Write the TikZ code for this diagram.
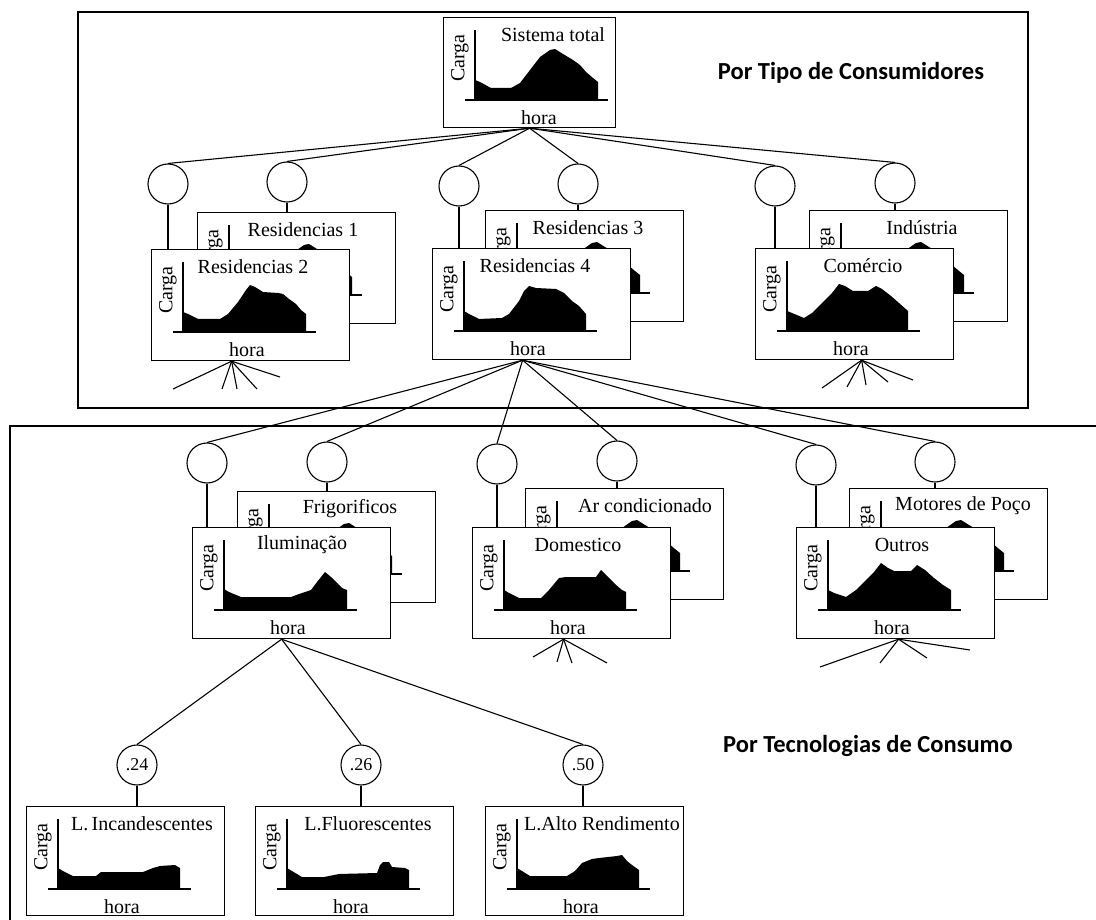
\documentclass[tikz,border=0pt]{standalone}
\usepackage{fontspec}
\setmainfont{Liberation Serif}
\newfontfamily\rotulo{Carlito}

\tikzset{
  caixa/.style={draw, fill=white, line width=1.2pt, minimum width=198pt,
    minimum height=111pt, anchor=north west, inner sep=0pt},
  bola/.style={draw, circle, fill=white, minimum size=40pt, inner sep=0pt,
    line width=1.1pt, font=\fontsize{18}{20}\selectfont},
  liga/.style={line width=1.1pt},
  moldura/.style={line width=1.3pt},
}

% grafico de carga dentro de uma caixa: nome, titulo, x do titulo, perfil
\newcommand{\grafico}[4]{%
  \begin{scope}[shift={(#1.north west)}]
    \draw[line width=1.2pt] (32,13) -- (32,83);
    \draw[line width=1.2pt] (22,83) -- (165,83);
    \fill[shift={(32,83)}, yscale=-1] (0,0) -- #4 -- cycle;
    \node[rotate=90] at (17,41) {Carga};
    \node at (#3,18) {#2};
    \node at (96,101) {hora};
  \end{scope}}
% caixa de tras (quase toda coberta)
\newcommand{\graficoatras}[3]{%
  \grafico{#1}{#2}{#3}{(0,20) -- (5,18) -- (16,12) -- (36,12) -- (45,17) -- (55,30) -- (65,43) -- (75,50) -- (80,51) -- (88,46) -- (98,40) -- (105,35) -- (111,28) -- (118,22) -- (123,18) -- (123,0)}}

\begin{document}
\begin{tikzpicture}[x=1pt, y=-1pt, font=\fontsize{20}{22}\selectfont]
\useasboundingbox (0,0) rectangle (1096,920);

% molduras
\draw[moldura] (78,12) rectangle (1028,408);
\draw[moldura] (10,920) -- (10,426) -- (1096,426);

% sistema total
\node[caixa, minimum width=172pt, minimum height=110pt] (stot) at (443,17) {};
\grafico{stot}{Sistema total}{110}{(0,20) -- (5,18) -- (16,12) -- (36,12) -- (45,17) -- (55,30) -- (65,43) -- (75,50) -- (80,51) -- (88,46) -- (98,40) -- (105,35) -- (111,28) -- (118,22) -- (123,18) -- (123,0)}

% tipo de consumidores
\node[caixa] (res1) at (197,212) {};
\graficoatras{res1}{Residencias 1}{106}
\node[caixa] (res2) at (151,249) {};
\grafico{res2}{Residencias 2}{102}{(0,20) -- (5,18) -- (15,13) -- (37,13) -- (45,18) -- (55,30) -- (63,42) -- (67,47) -- (72,45) -- (80,40) -- (95,39) -- (100,38) -- (106,33) -- (113,28) -- (118,22) -- (123,18) -- (123,0)}

\node[caixa] (res3) at (485,210) {};
\graficoatras{res3}{Residencias 3}{103}
\node[caixa] (res4) at (432,248) {};
\grafico{res4}{Residencias 4}{103}{(0,20) -- (5,17) -- (15,12) -- (38,13) -- (45,17) -- (55,30) -- (60,40) -- (65,45) -- (72,43) -- (92,42) -- (100,38) -- (108,30) -- (115,25) -- (122,17) -- (122,0)}

\node[caixa] (ind) at (809,210) {};
\graficoatras{ind}{Indústria}{113}
\node[caixa] (com) at (755,248) {};
\grafico{com}{Comércio}{108}{(0,20) -- (5,18) -- (17,13) -- (25,18) -- (37,30) -- (45,38) -- (52,47) -- (58,45) -- (66,40) -- (81,40) -- (89,45) -- (95,42) -- (104,35) -- (112,28) -- (121,20) -- (121,0)}

% tecnologias de consumo
\node[caixa] (frig) at (237,491) {};
\graficoatras{frig}{Frigorificos}{113}
\node[caixa] (ilum) at (192,527) {};
\grafico{ilum}{Iluminação}{110}{(0,21) -- (5,18) -- (17,13) -- (67,13) -- (75,16) -- (87,20) -- (93,28) -- (101,38) -- (107,33) -- (113,27) -- (118,22) -- (123,20) -- (123,0)}

\node[caixa] (ar) at (525,488) {};
\graficoatras{ar}{Ar condicionado}{120}
\node[caixa] (dom) at (472,527) {};
\grafico{dom}{Domestico}{106}{(0,20) -- (5,17) -- (15,12) -- (37,12) -- (45,20) -- (55,32) -- (62,33) -- (92,33) -- (97,40) -- (104,33) -- (112,25) -- (118,20) -- (122,18) -- (122,0)}

\node[caixa] (mot) at (849,488) {};
\graficoatras{mot}{Motores de Poço}{114}
\node[caixa] (out) at (796,527) {};
\grafico{out}{Outros}{106}{(0,20) -- (6,17) -- (18,13) -- (28,20) -- (38,30) -- (46,38) -- (53,47) -- (60,42) -- (66,39) -- (83,39) -- (89,45) -- (97,40) -- (106,32) -- (115,25) -- (123,20) -- (123,0)}

% lampadas
\node[caixa, minimum height=109pt] (linc) at (26,806) {};
\grafico{linc}{L.\,Incandescentes}{116}{(0,21) -- (5,18) -- (15,13) -- (38,13) -- (43,17) -- (85,17) -- (95,21) -- (102,23) -- (117,24) -- (122,21) -- (122,0)}
\node[caixa, minimum height=109pt] (lflu) at (255,806) {};
\grafico{lflu}{L.Fluorescentes}{113}{(0,21) -- (5,18) -- (15,12) -- (37,12) -- (52,15) -- (90,16) -- (93,24) -- (96,27) -- (102,27) -- (105,22) -- (118,21) -- (122,19) -- (122,0)}
\node[caixa, minimum height=109pt] (lalt) at (485,806) {};
\grafico{lalt}{L.Alto Rendimento}{117}{(0,21) -- (5,18) -- (13,13) -- (50,13) -- (58,18) -- (65,26) -- (75,30) -- (82,31) -- (100,33) -- (105,34) -- (110,28) -- (115,24) -- (122,19) -- (122,0)}

% circulos
\node[bola] (c1) at (168,184) {};
\node[bola] (c2) at (287,182) {};
\node[bola] (c3) at (459,186) {};
\node[bola] (c4) at (578,184) {};
\node[bola] (c5) at (775,186) {};
\node[bola] (c6) at (895,183) {};
\node[bola] (d1) at (207,463) {};
\node[bola] (d2) at (327,462) {};
\node[bola] (d3) at (497,464) {};
\node[bola] (d4) at (617,461) {};
\node[bola] (d5) at (816,465) {};
\node[bola] (d6) at (935,462) {};
\node[bola] (e1) at (137,765) {.24};
\node[bola] (e2) at (361,765) {.26};
\node[bola] (e3) at (583,765) {.50};

% ligacoes
\foreach \c in {c1,c2,c3,c4,c5,c6}
  \draw[liga] (stot.south) -- (\c.north);
\foreach \d in {d1,d2,d3,d4,d5,d6}
  \draw[liga] ([xshift=-9pt]res4.south) -- (\d.north);
\foreach \e in {e1,e2,e3}
  \draw[liga] ([xshift=-10pt]ilum.south) -- (\e.north);
\foreach \c/\b in {c1/res2, c2/res1, c3/res4, c4/res3, c5/com, c6/ind,
                   d1/ilum, d2/frig, d3/dom, d4/ar, d5/out, d6/mot,
                   e1/linc, e2/lflu, e3/lalt}
  \draw[liga] (\c.south) -- (\c.south |- \b.north);

% ramos soltos
\foreach \i/\px/\py in {1/173/389, 2/222/389, 3/237/389, 4/257/389, 5/280/377}
  {\coordinate (fr\i) at (\px,\py); \draw[liga] ([xshift=-19pt]res2.south) -- (fr\i);}
\foreach \i/\px/\py in {1/822/388, 2/847/387, 3/866/385, 4/888/382, 5/913/380}
  {\coordinate (fc\i) at (\px,\py); \draw[liga] ([xshift=7pt]com.south) -- (fc\i);}
\foreach \i/\px/\py in {1/533/657, 2/557/662, 3/572/663, 4/607/663}
  {\coordinate (fd\i) at (\px,\py); \draw[liga] ([xshift=-8pt]dom.south) -- (fd\i);}
\foreach \i/\px/\py in {1/820/667, 2/880/663, 3/927/658, 4/970/650}
  {\coordinate (fo\i) at (\px,\py); \draw[liga] ([xshift=3pt]out.south) -- (fo\i);}

% rotulos
\node[font=\rotulo\bfseries\fontsize{24.5}{27}\selectfont] (tipo) at (851,73) {Por Tipo de Consumidores};
\node[font=\rotulo\bfseries\fontsize{24.5}{27}\selectfont] (tec) at (868,746) {Por Tecnologias de Consumo};
\end{tikzpicture}
\end{document}
